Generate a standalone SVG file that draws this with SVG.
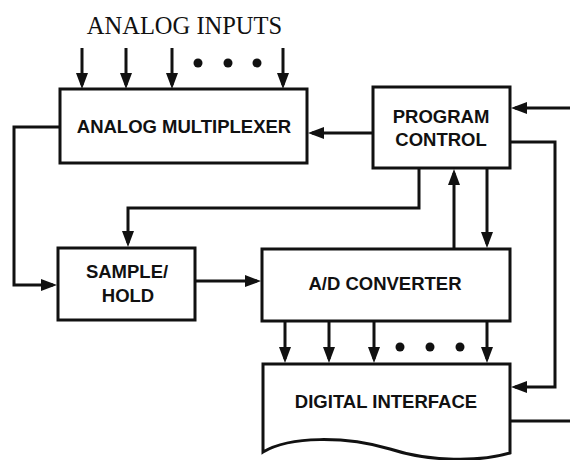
<svg xmlns="http://www.w3.org/2000/svg" width="570" height="460" viewBox="0 0 570 460">
<style>
.box{fill:#fff;stroke:#111;stroke-width:3}
.ln{fill:none;stroke:#111;stroke-width:3}
.arr{marker-end:url(#ah)}
.lbl{font-family:"Liberation Sans",Arial,sans-serif;font-weight:bold;font-size:18.5px;fill:#111;text-anchor:middle}
.ttl{font-family:"Liberation Serif","Times New Roman",serif;font-size:24.5px;fill:#111;text-anchor:middle}
.dot{fill:#111}
</style>
<defs>
<marker id="ah" markerUnits="userSpaceOnUse" markerWidth="16" markerHeight="12" refX="12" refY="6" orient="auto">
<path d="M0,0 L16,6 L0,12 Z" fill="#111"/>
</marker>
</defs>
<rect width="570" height="460" fill="#fff"/>
<text class="ttl" x="184.5" y="34">ANALOG INPUTS</text>
<g id="connectors">
<line class="ln arr" x1="82" y1="48" x2="82" y2="85"/>
<line class="ln arr" x1="126" y1="48" x2="126" y2="85"/>
<line class="ln arr" x1="172" y1="48" x2="172" y2="85"/>
<line class="ln arr" x1="283" y1="48" x2="283" y2="85"/>
<circle class="dot" cx="198" cy="63" r="4.5"/>
<circle class="dot" cx="228" cy="63" r="4.5"/>
<circle class="dot" cx="257" cy="63" r="4.5"/>
<line class="ln arr" x1="373" y1="133" x2="312" y2="133"/>
<line class="ln arr" x1="570" y1="108" x2="515" y2="108"/>
<polyline class="ln arr" points="510,142 555,142 555,387 515,387"/>
<line class="ln" x1="510" y1="421" x2="570" y2="421"/>
<polyline class="ln arr" points="60,127 14,127 14,285 53,285"/>
<polyline class="ln arr" points="419,168 419,208 128,208 128,243"/>
<line class="ln arr" x1="454" y1="249" x2="454" y2="173"/>
<line class="ln arr" x1="487" y1="168" x2="487" y2="244"/>
<line class="ln arr" x1="195" y1="281" x2="257" y2="281"/>
<line class="ln arr" x1="285" y1="322" x2="285" y2="359"/>
<line class="ln arr" x1="329" y1="322" x2="329" y2="359"/>
<line class="ln arr" x1="374" y1="322" x2="374" y2="359"/>
<line class="ln arr" x1="487" y1="322" x2="487" y2="359"/>
<circle class="dot" cx="400" cy="347" r="4.5"/>
<circle class="dot" cx="430" cy="347" r="4.5"/>
<circle class="dot" cx="460" cy="347" r="4.5"/>
</g>
<g id="mux">
<rect class="box" x="60" y="89" width="247" height="74"/>
<text class="lbl" x="184" y="133">ANALOG MULTIPLEXER</text>
</g>
<g id="program-control">
<rect class="box" x="373" y="87" width="137" height="81"/>
<text class="lbl" x="441" y="123">PROGRAM</text>
<text class="lbl" x="441" y="146">CONTROL</text>
</g>
<g id="sample-hold">
<rect class="box" x="58" y="248" width="137" height="72"/>
<text class="lbl" x="127" y="278">SAMPLE/</text>
<text class="lbl" x="128" y="302">HOLD</text>
</g>
<g id="ad-converter">
<rect class="box" x="262" y="249" width="248" height="72"/>
<text class="lbl" x="385" y="290">A/D CONVERTER</text>
</g>
<g id="digital-interface">
<path class="box" d="M263,364 H510 V453 C480,462 430,462 390,449 C345,436 290,436 263,452 Z"/>
<text class="lbl" x="386" y="408">DIGITAL INTERFACE</text>
</g>
</svg>
